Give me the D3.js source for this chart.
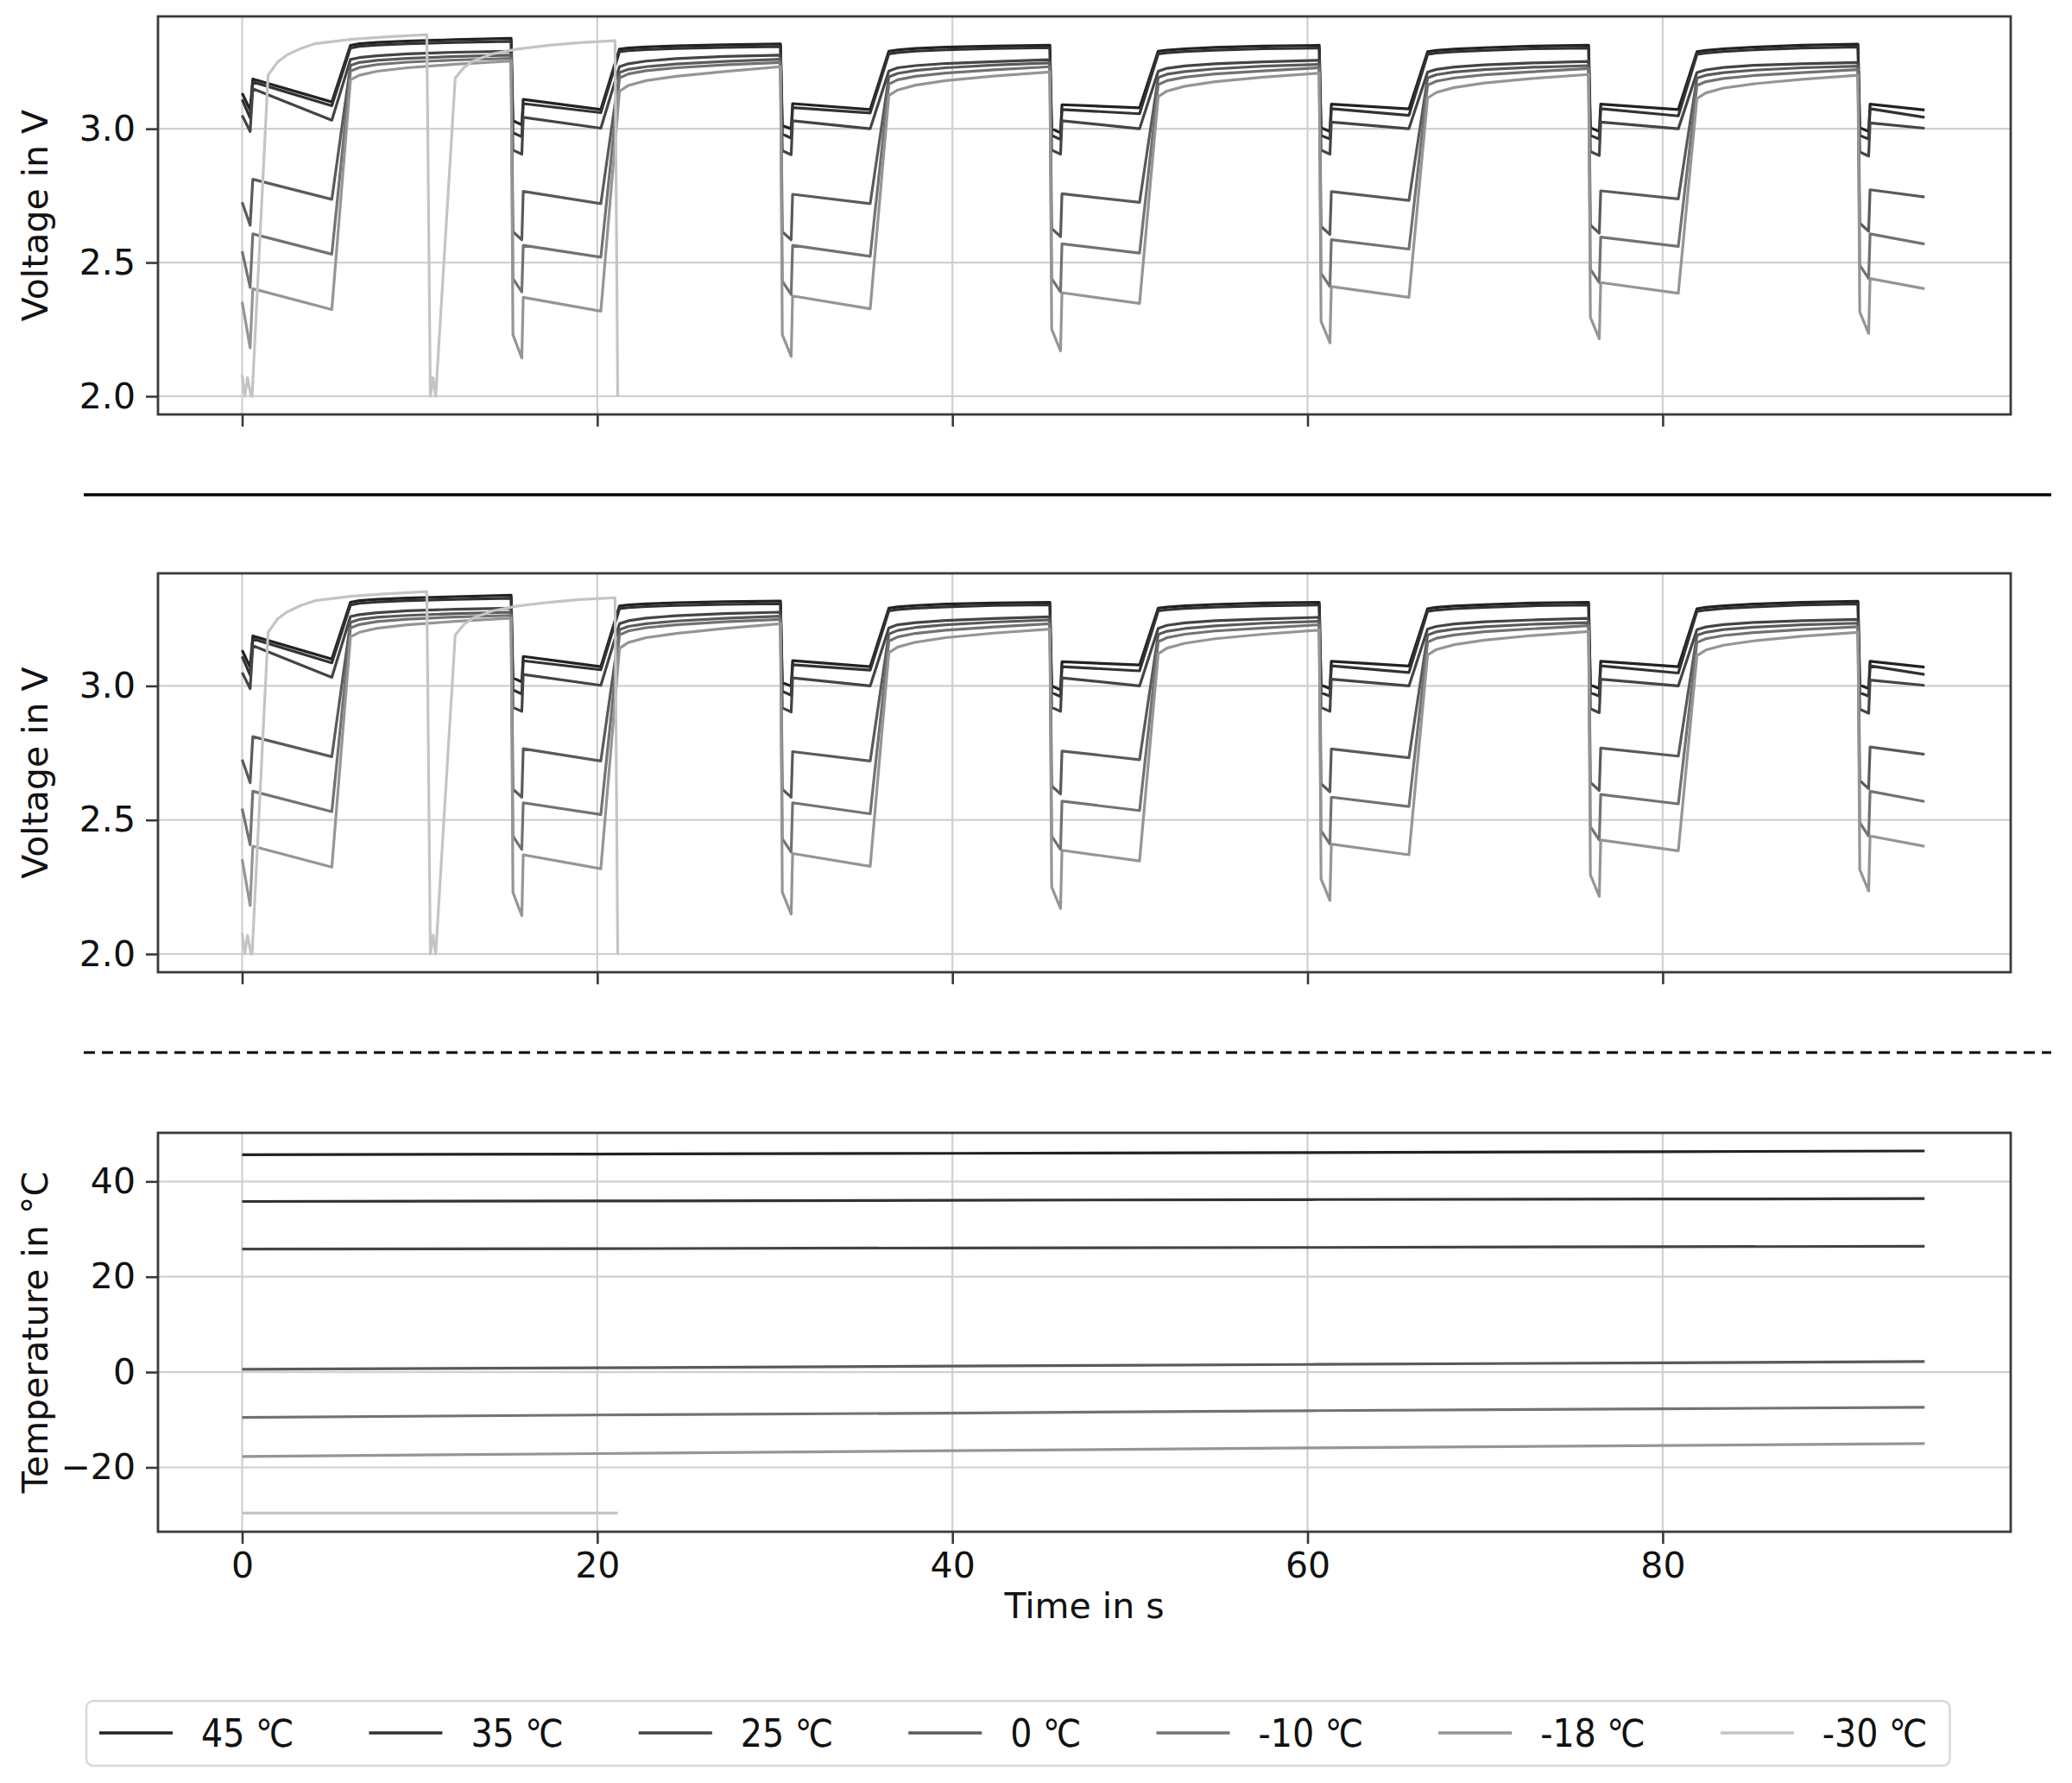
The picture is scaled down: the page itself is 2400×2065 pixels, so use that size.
<!DOCTYPE html>
<html>
<head>
<meta charset="utf-8">
<script src="https://cdn.jsdelivr.net/npm/d3@7"></script>
<style>
    body { margin: 0; background: #fff; }
    svg { display: block; font-family: "DejaVu Sans", sans-serif; }
</style>
</head>
<body>
<svg width="2400" height="2065"></svg>
<script>
// ---- data ----
const seriesNames = ["45 ℃", "35 ℃", "25 ℃", "0 ℃", "-10 ℃", "-18 ℃", "-30 ℃"];
const seriesColors = ["#222222", "#323232", "#444444", "#5a5a5a", "#727272", "#959595", "#c4c4c4"];

// shared time base of the pulse test (s), used by all series except -30 ℃
const vTime = [
    0, 0.45, 0.6, 5.05, 6.1, 6.6, 7.6, 9.3, 12.0,
    15.15, 15.25, 15.75, 15.83, 20.2, 21.25, 21.75, 22.75, 24.45, 27.15,
    30.32, 30.42, 30.92, 31.0, 35.37, 36.42, 36.92, 37.92, 39.62, 42.32,
    45.49, 45.59, 46.09, 46.17, 50.54, 51.59, 52.09, 53.09, 54.79, 57.49,
    60.66, 60.76, 61.26, 61.34, 65.71, 66.76, 67.26, 68.26, 69.96, 72.66,
    75.83, 75.93, 76.43, 76.51, 80.88, 81.93, 82.43, 83.43, 85.13, 87.83,
    91.0, 91.1, 91.6, 91.68, 94.75
];

const volt45 = [
    3.133, 3.07, 3.186, 3.100, 3.312, 3.318, 3.323, 3.328, 3.333,
    3.338, 3.03, 3.015, 3.110, 3.072, 3.298, 3.302, 3.306, 3.310, 3.314,
    3.317, 3.012, 3.0, 3.094, 3.072, 3.290, 3.295, 3.300, 3.305, 3.309,
    3.312, 3.0, 2.985, 3.090, 3.078, 3.290, 3.294, 3.299, 3.304, 3.309,
    3.312, 3.004, 2.99, 3.092, 3.074, 3.288, 3.293, 3.298, 3.303, 3.309,
    3.312, 3.004, 2.99, 3.092, 3.072, 3.288, 3.293, 3.299, 3.305, 3.312,
    3.316, 3.004, 2.99, 3.092, 3.070
];
const volt35 = [
    3.11, 3.04, 3.175, 3.086, 3.302, 3.308, 3.313, 3.318, 3.323,
    3.327, 2.985, 2.97, 3.094, 3.060, 3.288, 3.292, 3.296, 3.300, 3.304,
    3.307, 2.98, 2.965, 3.079, 3.059, 3.280, 3.285, 3.290, 3.295, 3.300,
    3.303, 2.975, 2.96, 3.072, 3.056, 3.280, 3.284, 3.289, 3.294, 3.299,
    3.302, 2.975, 2.962, 3.075, 3.050, 3.278, 3.283, 3.288, 3.293, 3.299,
    3.302, 2.975, 2.962, 3.075, 3.048, 3.278, 3.283, 3.289, 3.295, 3.302,
    3.306, 2.975, 2.962, 3.075, 3.043
];
const volt25 = [
    3.05, 2.99, 3.15, 3.032, 3.259, 3.266, 3.273, 3.280, 3.286,
    3.290, 2.92, 2.905, 3.043, 3.002, 3.232, 3.243, 3.253, 3.262, 3.270,
    3.275, 2.918, 2.903, 3.030, 3.000, 3.216, 3.228, 3.236, 3.244, 3.251,
    3.258, 2.92, 2.905, 3.030, 3.000, 3.215, 3.226, 3.235, 3.243, 3.250,
    3.256, 2.92, 2.905, 3.025, 3.000, 3.212, 3.222, 3.231, 3.239, 3.246,
    3.252, 2.915, 2.90, 3.025, 3.000, 3.210, 3.220, 3.229, 3.237, 3.243,
    3.248, 2.913, 2.898, 3.022, 3.002
];
const volt0 = [
    2.725, 2.639, 2.811, 2.736, 3.237, 3.248, 3.256, 3.263, 3.270,
    3.275, 2.615, 2.585, 2.766, 2.720, 3.210, 3.222, 3.232, 3.242, 3.252,
    3.260, 2.615, 2.585, 2.755, 2.720, 3.194, 3.207, 3.218, 3.228, 3.238,
    3.246, 2.627, 2.597, 2.757, 2.725, 3.192, 3.204, 3.214, 3.224, 3.234,
    3.241, 2.635, 2.605, 2.765, 2.732, 3.190, 3.202, 3.212, 3.221, 3.230,
    3.236, 2.64, 2.61, 2.768, 2.738, 3.189, 3.200, 3.210, 3.219, 3.228,
    3.234, 2.647, 2.617, 2.772, 2.745
];
const voltM10 = [
    2.542, 2.407, 2.607, 2.531, 3.216, 3.229, 3.240, 3.249, 3.257,
    3.263, 2.44, 2.39, 2.564, 2.520, 3.190, 3.205, 3.217, 3.228, 3.239,
    3.248, 2.43, 2.38, 2.564, 2.523, 3.167, 3.183, 3.196, 3.208, 3.220,
    3.232, 2.44, 2.39, 2.570, 2.535, 3.165, 3.180, 3.193, 3.205, 3.216,
    3.228, 2.46, 2.41, 2.585, 2.550, 3.163, 3.178, 3.190, 3.202, 3.213,
    3.225, 2.475, 2.425, 2.595, 2.560, 3.162, 3.176, 3.188, 3.199, 3.210,
    3.221, 2.49, 2.44, 2.607, 2.569
];
const voltM18 = [
    2.353, 2.181, 2.402, 2.324, 3.183, 3.200, 3.215, 3.228, 3.241,
    3.253, 2.23, 2.143, 2.370, 2.318, 3.140, 3.162, 3.180, 3.196, 3.214,
    3.232, 2.23, 2.149, 2.375, 2.327, 3.124, 3.145, 3.163, 3.180, 3.197,
    3.212, 2.25, 2.170, 2.387, 2.347, 3.120, 3.141, 3.159, 3.176, 3.193,
    3.208, 2.28, 2.200, 2.410, 2.370, 3.115, 3.136, 3.154, 3.171, 3.188,
    3.203, 2.295, 2.215, 2.425, 2.385, 3.113, 3.134, 3.152, 3.168, 3.185,
    3.200, 2.315, 2.235, 2.440, 2.402
];

// -30 ℃ hits the 2.0 V cut-off and stops after ~21 s
const timeM30 = [0, 0.15, 0.3, 0.5, 0.56, 1.46, 2.0, 2.5, 3.3, 4.1, 6.1, 8.0, 10.4,
    10.6, 10.75, 10.9, 12.0, 12.5, 13.0, 14.1, 15.5, 17.3, 19.0, 21.0, 21.15];
const voltM30 = [2.079, 2.0, 2.07, 2.0, 2.0, 3.2, 3.25, 3.275, 3.30, 3.318, 3.334, 3.343, 3.352,
    2.0, 2.07, 2.0, 3.19, 3.23, 3.253, 3.28, 3.298, 3.312, 3.322, 3.329, 2.0];

// cell temperature (℃)
const tempTime = [0, 20, 40, 60, 80, 94.75];
const temp45 = [45.6, 45.75, 45.9, 46.05, 46.25, 46.4];
const temp35 = [35.8, 35.9, 36.05, 36.2, 36.3, 36.4];
const temp25 = [25.8, 25.9, 26.05, 26.15, 26.3, 26.4];
const temp0 = [0.6, 0.9, 1.25, 1.6, 1.95, 2.2];
const tempM10 = [-9.5, -9.0, -8.6, -8.1, -7.7, -7.4];
const tempM18 = [-17.7, -17.1, -16.5, -15.9, -15.4, -15.0];
const tempTimeM30 = [0, 21.15];
const tempM30 = [-29.6, -29.6];

const timeTicks = [0, 20, 40, 60, 80];
const voltTicks = [2.0, 2.5, 3.0];
const tempTicks = [-20, 0, 20, 40];

// ---- helpers ----
function zipPoints(ts, vs) {
    return ts.map((t, i) => [t, vs[i]]);
}

const voltSeries = [
    zipPoints(vTime, volt45), zipPoints(vTime, volt35), zipPoints(vTime, volt25),
    zipPoints(vTime, volt0), zipPoints(vTime, voltM10), zipPoints(vTime, voltM18),
    zipPoints(timeM30, voltM30)
];
const tempSeries = [
    zipPoints(tempTime, temp45), zipPoints(tempTime, temp35), zipPoints(tempTime, temp25),
    zipPoints(tempTime, temp0), zipPoints(tempTime, tempM10), zipPoints(tempTime, tempM18),
    zipPoints(tempTimeM30, tempM30)
];

const svg = d3.select("svg");
const left = 183, right = 2329;
const fontSize = 41;
const frameColor = "#3a3a3a";
const gridColor = "#d0d0d0";

const x = d3.scaleLinear().domain([-4.74, 99.6]).range([left, right]);

function drawPanel(id, top, bottom, yDomain, yTicks, yFormat, label, series, showTimeLabels) {
    const y = d3.scaleLinear().domain(yDomain).range([bottom, top]);
    const g = svg.append("g");

    g.append("clipPath").attr("id", "clip" + id)
        .append("rect")
        .attr("x", left).attr("y", top)
        .attr("width", right - left).attr("height", bottom - top);

    // grid
    g.append("g").selectAll("line")
        .data(timeTicks)
        .join("line")
        .attr("x1", d => x(d)).attr("x2", d => x(d))
        .attr("y1", top).attr("y2", bottom)
        .attr("stroke", gridColor).attr("stroke-width", 2.2);
    g.append("g").selectAll("line")
        .data(yTicks)
        .join("line")
        .attr("x1", left).attr("x2", right)
        .attr("y1", d => y(d)).attr("y2", d => y(d))
        .attr("stroke", gridColor).attr("stroke-width", 2.2);

    // data
    const line = d3.line().x(d => x(d[0])).y(d => y(d[1]));
    g.append("g")
        .attr("clip-path", `url(#clip${id})`)
        .selectAll("path")
        .data(series)
        .join("path")
        .attr("d", line)
        .attr("fill", "none")
        .attr("stroke", (d, i) => seriesColors[i])
        .attr("stroke-width", 3.2)
        .attr("stroke-linejoin", "round");

    // axes
    const yAxis = g.append("g")
        .attr("transform", `translate(${left},0)`)
        .call(d3.axisLeft(y).tickValues(yTicks).tickSize(14).tickPadding(12).tickFormat(yFormat));
    const xAxis = g.append("g")
        .attr("transform", `translate(0,${bottom})`)
        .call(d3.axisBottom(x).tickValues(timeTicks).tickSize(14).tickPadding(10)
            .tickFormat(showTimeLabels ? d3.format("d") : ""));
    [yAxis, xAxis].forEach(a => {
        a.select(".domain").remove();
        a.selectAll(".tick line").attr("stroke", frameColor).attr("stroke-width", 2.6);
        a.selectAll(".tick text")
            .attr("fill", "#111")
            .style("font-size", fontSize + "px")
            .style("font-family", "'DejaVu Sans', sans-serif");
    });

    // frame
    g.append("rect")
        .attr("x", left).attr("y", top)
        .attr("width", right - left).attr("height", bottom - top)
        .attr("fill", "none")
        .attr("stroke", frameColor).attr("stroke-width", 2.8);

    g.append("text")
        .attr("transform", `translate(41,${(top + bottom) / 2}) rotate(-90)`)
        .attr("text-anchor", "middle")
        .attr("dominant-baseline", "central")
        .attr("fill", "#111")
        .style("font-size", fontSize + "px")
        .text(label);
}

const voltFormat = d3.format(".1f");
const tempFormat = d => d < 0 ? "\u2212" + Math.abs(d) : String(d);

drawPanel("v1", 19, 480, [1.932, 3.42], voltTicks, voltFormat, "Voltage in V", voltSeries, false);
drawPanel("v2", 664, 1126, [1.932, 3.42], voltTicks, voltFormat, "Voltage in V", voltSeries, false);
drawPanel("t", 1312, 1774, [-33.5, 50.2], tempTicks, tempFormat, "Temperature in °C", tempSeries, true);

// separators between the panels
svg.append("line")
    .attr("x1", 97).attr("x2", 2376).attr("y1", 573).attr("y2", 573)
    .attr("stroke", "#000").attr("stroke-width", 3.5);
svg.append("line")
    .attr("x1", 97).attr("x2", 2376).attr("y1", 1219).attr("y2", 1219)
    .attr("stroke", "#000").attr("stroke-width", 3)
    .attr("stroke-dasharray", "13,8");

svg.append("text")
    .attr("x", (left + right) / 2).attr("y", 1874)
    .attr("text-anchor", "middle")
    .attr("fill", "#111")
    .style("font-size", fontSize + "px")
    .text("Time in s");

// ---- legend ----
const legend = svg.append("g");
const box = legend.append("rect")
    .attr("x", 100).attr("y", 1970)
    .attr("height", 75)
    .attr("rx", 8)
    .attr("fill", "#fff")
    .attr("stroke", "#d8d8d8").attr("stroke-width", 2.5);

let lx = 115;
const ly = 2007;
seriesNames.forEach((name, i) => {
    legend.append("line")
        .attr("x1", lx).attr("x2", lx + 85)
        .attr("y1", ly).attr("y2", ly)
        .attr("stroke", seriesColors[i]).attr("stroke-width", 3.4);
    const t = legend.append("text")
        .attr("x", lx + 118).attr("y", ly)
        .attr("dominant-baseline", "central")
        .attr("fill", "#111")
        .style("font-family", "'DejaVu Sans Condensed', 'DejaVu Sans', sans-serif")
        .style("font-stretch", "condensed")
        .style("font-size", "44px")
        .text(name);
    const w = t.node().getComputedTextLength();
    if (i < seriesNames.length - 1) lx = lx + 118 + w + 87;
    else box.attr("width", lx + 118 + w + 26 - 100);
});
</script>
</body>
</html>
